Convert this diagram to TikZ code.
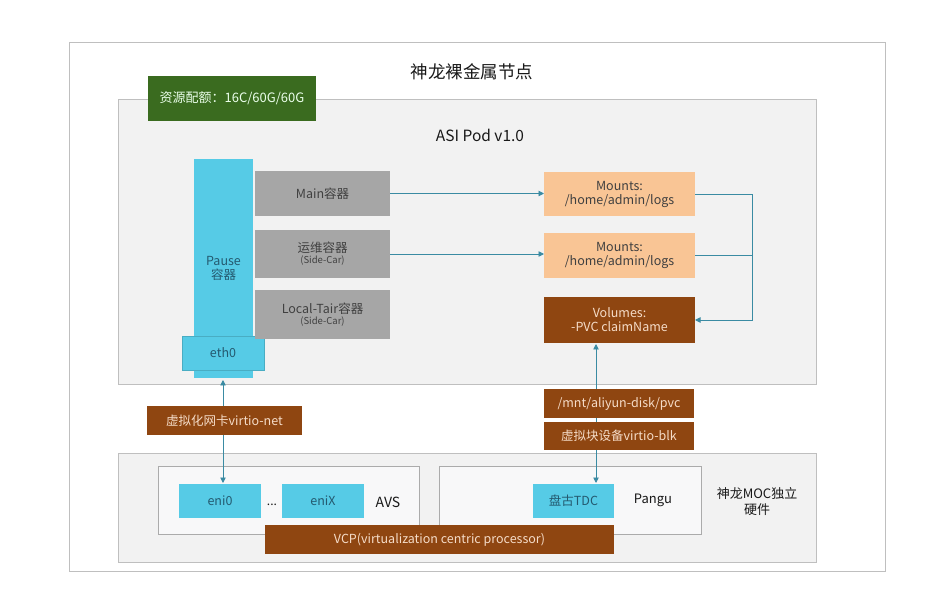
\documentclass[tikz,border=0pt]{standalone}
\usepackage{fontspec}
\setmainfont{Noto Sans CJK SC}
\usetikzlibrary{arrows.meta}
\definecolor{frameg}{HTML}{BFBFBF}
\definecolor{innerg}{HTML}{ABABAB}
\definecolor{panel}{HTML}{F2F2F2}
\definecolor{innerf}{HTML}{F8F8F9}
\definecolor{grn}{HTML}{3A6B1F}
\definecolor{brn}{HTML}{8F4611}
\definecolor{peach}{HTML}{F9C595}
\definecolor{cyanb}{HTML}{56CBE6}
\definecolor{grayb}{HTML}{A6A6A6}
\definecolor{teal}{HTML}{3A8BA3}
\definecolor{dtext}{HTML}{404040}
\definecolor{ctext}{HTML}{245A70}
\definecolor{btext}{HTML}{F5DCC8}
\begin{document}
\begin{tikzpicture}[x=1pt,y=-1pt,
  bx/.style={rectangle,inner sep=0pt,outer sep=0pt,align=center,font=\fontsize{12.5}{14}\selectfont},
  frm/.style={bx,draw=frameg,line width=1pt},
  ifrm/.style={bx,draw=innerg,line width=1pt,fill=innerf},
  graybox/.style={bx,fill=grayb,text=dtext},
  peachbox/.style={bx,fill=peach,text=dtext},
  brnbox/.style={bx,fill=brn,text=btext},
  cybox/.style={bx,fill=cyanb,text=ctext},
  conn/.style={draw=teal,line width=0.9pt},
  arr/.style={conn,-{Triangle[width=5.5pt,length=5.5pt]}},
  arrb/.style={conn,{Triangle[width=5.5pt,length=5.5pt]}-{Triangle[width=5.5pt,length=5.5pt]}},
  lbl/.style={inner sep=0pt,align=center,text=black!90}]
\useasboundingbox (0,0) rectangle (932,609);
\fill[white] (0,0) rectangle (932,609);
% outer frame
\node[frm,minimum width=816,minimum height=528] (outer) at (477,307) {};
\node[lbl,font=\fontsize{17.5}{20}\selectfont] (title) at (472,72) {神龙裸金属节点};
% pod
\node[frm,fill=panel,minimum width=698,minimum height=285] (pod) at (467,242.5) {};
\node[bx,fill=grn,text=white!92!green,minimum width=168,minimum height=45,font=\fontsize{13}{15}\selectfont] (quota) at (232,98.5) {资源配额：16C/60G/60G};
\node[lbl,font=\fontsize{15.5}{18}\selectfont] (pvt) at (480,135) {ASI Pod v1.0};
% containers
\node[cybox,minimum width=59,minimum height=219] (pause) at (223.5,268.5) {Pause\\容器};
\node[cybox,draw=cyanb!85!black,line width=0.4pt,minimum width=82,minimum height=34] (eth) at (223,353) {eth0};
\node[graybox,minimum width=135,minimum height=45] (main) at (322.5,193.5) {Main容器};
\node[graybox,minimum width=135,minimum height=48] (ops) at (322.5,254) {运维容器\\[-3pt]{\fontsize{9.5}{11}\selectfont (Side-Car)}};
\node[graybox,minimum width=135,minimum height=49] (tair) at (322.5,314.5) {Local-Tair容器\\[-3pt]{\fontsize{9.5}{11}\selectfont (Side-Car)}};
% mounts
\node[peachbox,minimum width=151,minimum height=44] (m1) at (619.5,194) {Mounts:\\/home/admin/logs};
\node[peachbox,minimum width=151,minimum height=45] (m2) at (619.5,255.5) {Mounts:\\/home/admin/logs};
\node[brnbox,minimum width=151,minimum height=46] (vol) at (619.5,320) {Volumes:\\-PVC claimName};
% connectors in pod
\coordinate (jx) at (752,0);
\draw[arr] (main.east) -- (main.east -| m1.west);
\draw[arr] (ops.east) -- (ops.east -| m2.west);
\draw[conn] (m2.east) -- (m2.east -| jx);
\draw[arr] (m1.east) -- (m1.east -| jx) |- (vol.east);
% hardware
\node[frm,fill=panel,minimum width=698,minimum height=108] (hw) at (467,508) {};
\node[ifrm,minimum width=261,minimum height=68] (avs) at (288.5,500) {};
\node[ifrm,minimum width=262,minimum height=68] (pangu) at (570,500) {};
\node[cybox,minimum width=82,minimum height=34] (eni0) at (220,501) {eni0};
\node[cybox,minimum width=82,minimum height=34] (enix) at (323,501) {eniX};
\node[lbl,font=\fontsize{12}{14}\selectfont] (dots) at (272,505) {...};
\node[lbl,font=\fontsize{14}{16}\selectfont] (avsl) at (388,502) {AVS};
\node[cybox,minimum width=81,minimum height=34] (tdc) at (573.5,501) {盘古TDC};
\node[lbl,font=\fontsize{13}{15}\selectfont] (pangul) at (653,500) {Pangu};
\node[lbl,font=\fontsize{13}{16}\selectfont] (moc) at (757,502) {神龙MOC独立\\硬件};
\node[brnbox,minimum width=349,minimum height=29] (vcp) at (439.5,539.5) {VCP(virtualization centric processor)};
% vertical links
\coordinate (ex) at (223,0);
\coordinate (vx) at (596,0);
\draw[arrb] ([yshift=-2pt]pause.south -| ex) -- ([yshift=1pt]eni0.north -| ex);
\draw[arrb] ([yshift=-1pt]vol.south -| vx) -- ([yshift=1pt]tdc.north -| vx);
\node[brnbox,minimum width=155,minimum height=29] (vnet) at (224.5,420.5) {虚拟化网卡virtio-net};
\node[brnbox,minimum width=150,minimum height=29] (mnt) at (619,403.5) {/mnt/aliyun-disk/pvc};
\node[brnbox,minimum width=150,minimum height=28] (blk) at (619,436) {虚拟块设备virtio-blk};
\end{tikzpicture}
\end{document}
